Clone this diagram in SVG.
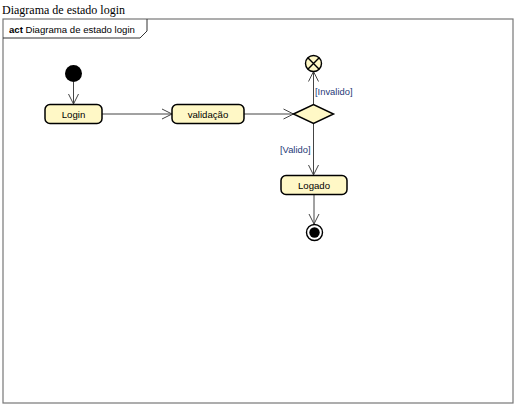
<svg xmlns="http://www.w3.org/2000/svg" width="520" height="407" viewBox="0 0 520 407">
<style>
.title{font-family:"Liberation Serif",serif;font-size:12px;fill:#000}
.lbl{font-family:"Liberation Sans",Arial,sans-serif;font-size:9.6px;fill:#000}
.guard{font-family:"Liberation Sans",Arial,sans-serif;font-size:9.4px;fill:#1f3a78}
.act{fill:#fff8c6;stroke:#000;stroke-width:1.5}
.edge{fill:none;stroke:#444;stroke-width:1}
</style>
<defs>
<marker id="open" viewBox="0 0 12 12" refX="11" refY="6" markerWidth="12" markerHeight="12" markerUnits="userSpaceOnUse" orient="auto">
<path d="M1,1 L11,6 L1,11" fill="none" stroke="#444" stroke-width="1"/>
</marker>
</defs>
<rect width="520" height="407" fill="#fff"/>
<text class="title" x="2" y="14">Diagrama de estado login</text>
<g id="frame">
<rect x="3" y="19" width="510" height="384" fill="none" stroke="#777" stroke-width="1.2"/>
<path d="M3,38 L140,38 L147,31 L147,19" fill="none" stroke="#333" stroke-width="1"/>
<text class="lbl" x="9" y="32.5"><tspan font-weight="bold">act</tspan> Diagrama de estado login</text>
</g>
<g id="connectors">
<line class="edge" x1="73.5" y1="82" x2="73.5" y2="104" marker-end="url(#open)"/>
<line class="edge" x1="102" y1="114" x2="172" y2="114" marker-end="url(#open)"/>
<line class="edge" x1="244" y1="114" x2="293.5" y2="114" marker-end="url(#open)"/>
<line class="edge" x1="313.5" y1="104.5" x2="313.5" y2="71.5" marker-end="url(#open)"/>
<line class="edge" x1="313.5" y1="123.5" x2="313.5" y2="175" marker-end="url(#open)"/>
<line class="edge" x1="314" y1="194.5" x2="314" y2="224" marker-end="url(#open)"/>
<text class="guard" x="315" y="95">[Invalido]</text>
<text class="guard" x="280" y="153">[Valido]</text>
</g>
<g id="initial">
<circle cx="73.5" cy="73.5" r="8.5" fill="#000"/>
</g>
<g id="login">
<rect class="act" x="45" y="104.5" width="57" height="19" rx="5"/>
<text class="lbl" x="73.5" y="117.8" text-anchor="middle">Login</text>
</g>
<g id="validacao">
<rect class="act" x="172" y="104.5" width="72" height="19" rx="5"/>
<text class="lbl" x="208" y="117.8" text-anchor="middle">validação</text>
</g>
<g id="decision">
<polygon class="act" points="293.5,114 313.5,104.5 333.5,114 313.5,123.5"/>
</g>
<g id="flowfinal">
<circle cx="313.5" cy="63.5" r="8" fill="#fff8c6" stroke="#000" stroke-width="1.4"/>
<path d="M307.8,57.8 L319.2,69.2 M319.2,57.8 L307.8,69.2" stroke="#000" stroke-width="1.4"/>
</g>
<g id="logado">
<rect class="act" x="281" y="175.5" width="66" height="19" rx="5"/>
<text class="lbl" x="314" y="188.8" text-anchor="middle">Logado</text>
</g>
<g id="final">
<circle cx="314.5" cy="232.5" r="8" fill="#fff" stroke="#000" stroke-width="1.4"/>
<circle cx="314.5" cy="232.5" r="5.2" fill="#000"/>
</g>
</svg>
